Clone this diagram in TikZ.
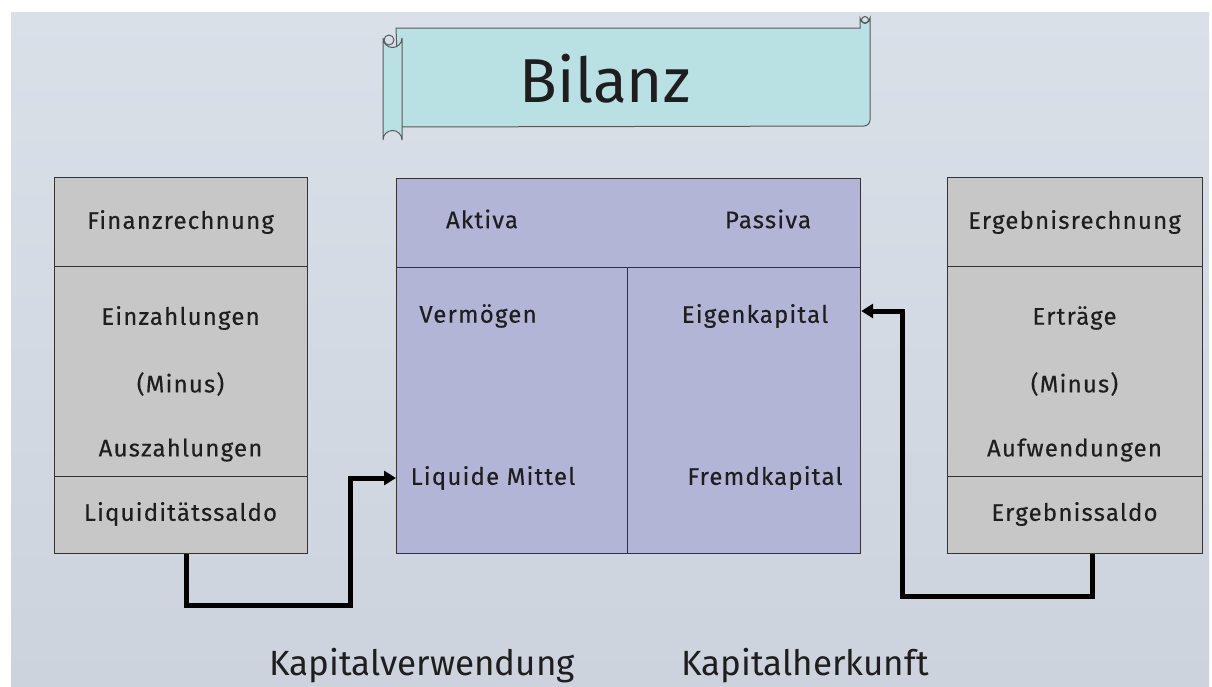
\documentclass[tikz,border=0pt]{standalone}
\usepackage{fontspec}
\setmainfont{Fira Sans}
\newfontfamily\lblfont[LetterSpace=5,FakeBold=0.3]{Fira Sans}
\usetikzlibrary{arrows.meta}
\definecolor{bgtop}{HTML}{D9E0E8}
\definecolor{bgbot}{HTML}{CCD3DD}
\definecolor{scrollfill}{HTML}{B9E0E3}
\definecolor{grayfill}{HTML}{C8C7C7}
\definecolor{bluefill}{HTML}{B2B5D5}
\definecolor{txt}{HTML}{1E1E1E}
\tikzset{
  graybox/.style={draw=black!80, line width=1.2pt, fill=grayfill, inner sep=0pt, anchor=north west},
  bluebox/.style={draw=black!80, line width=1.2pt, fill=bluefill, inner sep=0pt, anchor=north west},
  lbl/.style={text=txt, font=\lblfont\fontsize{24}{27}\selectfont, inner sep=0pt},
  big/.style={text=txt, font=\fontsize{35}{40}\selectfont, inner sep=0pt, anchor=base},
  conn/.style={line width=5pt, black, -{Triangle[length=12pt,width=14pt]}},
}
\begin{document}
\begin{tikzpicture}[x=1pt,y=-1pt]
\useasboundingbox (0,0) rectangle (1212,686);
\fill[white] (0,0) rectangle (1212,686);
\shade[top color=bgtop, bottom color=bgbot] (11,12) rectangle (1209,686);

% scroll banner
\filldraw[fill=scrollfill, draw=black!65, line width=1pt]
  (396,28) -- (860,28) -- (860,18) arc (180:0:5) -- (870,120) arc (0:90:6) -- (400,127) -- cycle;
\filldraw[fill=scrollfill, draw=black!65, line width=1pt]
  (383,38) -- (383,140) arc (180:360:9.5) -- (402,38) arc (0:180:9.5) -- cycle;
\draw[black!65, line width=1pt] (389,40) circle (5);
\draw[black!65, line width=1pt] (865,20) circle (3.5);
\node[text=txt, font=\fontsize{62}{70}\selectfont, inner sep=0pt] (title) at (605,79) {Bilanz};

% left box
\node[graybox, minimum width=253pt, minimum height=89pt] (finh) at (54,177) {};
\node[graybox, minimum width=253pt, minimum height=210pt] (finb) at (54,266) {};
\node[graybox, minimum width=253pt, minimum height=77pt] (liq) at (54,476) {};
\node[lbl] (t1) at (180.5,222) {Finanzrechnung};
\node[lbl] (t2) at (180.5,318) {Einzahlungen};
\node[lbl] (t3) at (180.5,384) {(Minus)};
\node[lbl] (t4) at (180.5,450) {Auszahlungen};
\node[lbl] (t5) at (180.5,514) {Liquiditätssaldo};

% middle box
\node[bluebox, minimum width=464pt, minimum height=89pt] (head) at (396,178) {};
\node[bluebox, minimum width=231pt, minimum height=286pt] (akt) at (396,267) {};
\node[bluebox, minimum width=233pt, minimum height=286pt] (pas) at (627,267) {};
\node[lbl] (m1) at (482,219) {Aktiva};
\node[lbl] (m2) at (768,219) {Passiva};
\node[lbl] (m3) at (478,316) {Vermögen};
\node[lbl] (m4) at (755,316) {Eigenkapital};
\node[lbl] (m5) at (493,478) {Liquide Mittel};
\node[lbl] (m6) at (765,478) {Fremdkapital};

% right box
\node[graybox, minimum width=255pt, minimum height=89pt] (ergh) at (947,177) {};
\node[graybox, minimum width=255pt, minimum height=210pt] (ergb) at (947,266) {};
\node[graybox, minimum width=255pt, minimum height=77pt] (ers) at (947,476) {};
\node[lbl] (r1) at (1074.5,222) {Ergebnisrechnung};
\node[lbl] (r2) at (1074.5,318) {Erträge};
\node[lbl] (r3) at (1074.5,384) {(Minus)};
\node[lbl] (r4) at (1074.5,450) {Aufwendungen};
\node[lbl] (r5) at (1074.5,514) {Ergebnissaldo};

% connectors
\coordinate (c1) at (350,605);
\coordinate (c2) at (902,596);
\draw[conn] ([xshift=5.5pt]liq.south) |- (c1) |- (akt.west |- m5);
\draw[conn] ([xshift=17.5pt]ers.south) |- (c2) |- (pas.east |- 0,311);

% bottom labels
\node[big] (kv) at (422,675) {Kapitalverwendung};
\node[big] (kh) at (805,675) {Kapitalherkunft};
\end{tikzpicture}
\end{document}
